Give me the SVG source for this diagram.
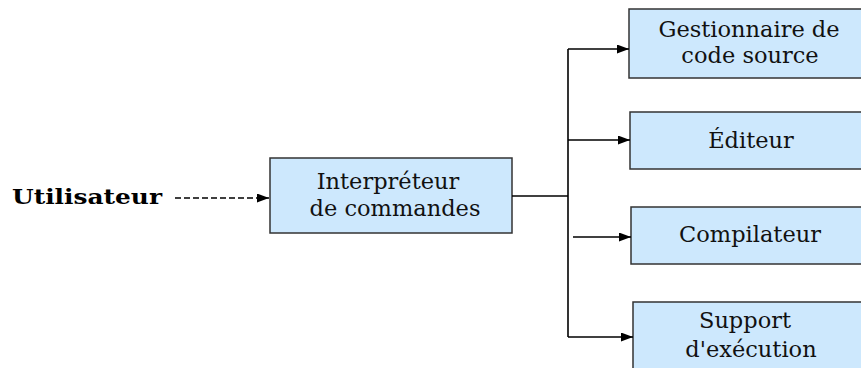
<svg xmlns="http://www.w3.org/2000/svg" width="861" height="368" viewBox="0 0 861 368">
  <defs>
    <marker id="arrow" viewBox="0 0 12 9" refX="12" refY="4.5" markerWidth="12" markerHeight="9" markerUnits="userSpaceOnUse" orient="auto">
      <path d="M0,0 L12,4.5 L0,9 Z" fill="#000"/>
    </marker>
    <style>
      .box { fill: #cde8fd; stroke: #333; stroke-width: 1.5; }
      .label { font-family: "DejaVu Serif", serif; font-size: 22.5px; fill: #111; text-anchor: middle; }
      .actor { font-family: "DejaVu Serif", serif; font-weight: bold; font-size: 21px; fill: #000; }
      .wire { fill: none; stroke: #000; stroke-width: 1.6; }
      .dashed { stroke-dasharray: 6 3; }
    </style>
  </defs>
  <rect width="861" height="368" fill="#fff"/>

  <g id="utilisateur">
    <text class="actor" x="12" y="204" textLength="150" lengthAdjust="spacingAndGlyphs">Utilisateur</text>
  </g>

  <g id="interpreteur">
    <rect class="box" x="270" y="158" width="242" height="75"/>
    <text class="label" x="388" y="189">Interpréteur</text>
    <text class="label" x="395" y="216">de commandes</text>
  </g>

  <g id="gestionnaire">
    <rect class="box" x="629" y="9" width="250" height="69"/>
    <text class="label" x="749" y="37">Gestionnaire de</text>
    <text class="label" x="750" y="63">code source</text>
  </g>

  <g id="editeur">
    <rect class="box" x="630" y="112" width="250" height="57"/>
    <text class="label" x="751" y="148">Éditeur</text>
  </g>

  <g id="compilateur">
    <rect class="box" x="631" y="207" width="250" height="57"/>
    <text class="label" x="750" y="242">Compilateur</text>
  </g>

  <g id="support">
    <rect class="box" x="633" y="302" width="250" height="80"/>
    <text class="label" x="745" y="328">Support</text>
    <text class="label" x="751" y="357">d'exécution</text>
  </g>

  <g id="connectors">
    <line class="wire dashed" x1="175" y1="198" x2="269" y2="198" marker-end="url(#arrow)"/>
    <line class="wire" x1="512" y1="196" x2="568" y2="196"/>
    <line class="wire" x1="568" y1="49" x2="568" y2="337"/>
    <line class="wire" x1="568" y1="49" x2="629" y2="49" marker-end="url(#arrow)"/>
    <line class="wire" x1="568" y1="140" x2="630" y2="140" marker-end="url(#arrow)"/>
    <line class="wire" x1="573" y1="237" x2="631" y2="237" marker-end="url(#arrow)"/>
    <line class="wire" x1="568" y1="337" x2="633" y2="337" marker-end="url(#arrow)"/>
  </g>
</svg>
